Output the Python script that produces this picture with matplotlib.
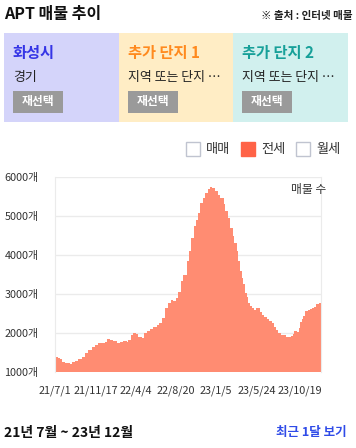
#!/usr/bin/env python3
import datetime as dt
import matplotlib
matplotlib.use('Agg')
import matplotlib.pyplot as plt
from matplotlib.patches import Rectangle

plt.rcParams['font.family'] = ['Noto Sans CJK KR', 'DejaVu Sans']

# 전세 매물 수 (days since 2021-07-01, count)
start = dt.date(2021, 7, 1)
day_offsets = [0, 11, 17, 23, 34, 40, 46, 51, 57, 69, 80, 92, 103, 114, 126, 137,
               149, 160, 172, 177, 189, 200, 212, 223, 234, 246, 252, 260, 269, 278,
               286, 298, 305, 315, 326, 337, 349, 358, 366, 378, 389, 397, 406, 415,
               423, 432, 440, 452, 460, 467, 475, 483, 490, 498, 506, 515, 526, 532,
               540, 549, 558, 566, 578, 583, 593, 601, 609, 615, 624, 629, 636, 641,
               646, 652, 658, 663, 669, 675, 683, 690, 698, 704, 709, 717, 727, 735,
               744, 752, 758, 766, 775, 784, 792, 801, 809, 816, 820, 830, 835, 841,
               847, 852, 858, 866, 873, 881, 889, 896, 904, 912]
counts = [1393, 1350, 1325, 1265, 1222, 1240, 1222, 1197, 1265, 1290, 1333, 1393,
          1479, 1564, 1650, 1692, 1735, 1744, 1778, 1838, 1820, 1795, 1752, 1760,
          1795, 1778, 1820, 1949, 1991, 1974, 1906, 1880, 1991, 2060, 2094, 2162,
          2205, 2248, 2376, 2632, 2761, 2846, 2821, 2889, 3051, 3325, 3496, 3855,
          4094, 4436, 4735, 4906, 5077, 5333, 5462, 5590, 5701, 5744, 5718, 5632,
          5547, 5462, 5308, 5120, 4949, 4692, 4479, 4308, 4094, 3838, 3581, 3402,
          3248, 3017, 2915, 2761, 2692, 2632, 2590, 2632, 2632, 2547, 2462, 2402,
          2359, 2316, 2248, 2162, 2077, 2009, 1949, 1949, 1906, 1906, 1923, 1974,
          2060, 2034, 2120, 2291, 2350, 2436, 2573, 2590, 2615, 2650, 2675, 2744,
          2761, 2778]

tick_dates = [dt.date(2021, 7, 1), dt.date(2021, 11, 17), dt.date(2022, 4, 4),
              dt.date(2022, 8, 20), dt.date(2023, 1, 5), dt.date(2023, 5, 24),
              dt.date(2023, 10, 19)]
tick_labels = ['21/7/1', '21/11/17', '22/4/4', '22/8/20', '23/1/5', '23/5/24', '23/10/19']
y_ticks = [1000, 2000, 3000, 4000, 5000, 6000]

W, H = 356, 448
fig = plt.figure(figsize=(W / 100, H / 100), dpi=100)


def fx(x):
    return x / W


def fy(y):
    return 1 - y / H


def px_text(x, y, s, **kw):
    fig.text(fx(x), fy(y), s, **kw)


# header
px_text(4, 14, 'APT 매물 추이', fontsize=11.5, fontweight='bold', va='center', color='#111111')
px_text(353, 16, '※ 출처 : 인터넷 매물', fontsize=7.6, fontweight='bold', va='center',
        ha='right', color='#222222')

# three selection boxes
boxes = [
    (4, '#D4D4FA', '화성시', '#3535E6', '경기'),
    (119, '#FFEDC5', '추가 단지 1', '#FF8A1E', '지역 또는 단지 …'),
    (233, '#D1F0EE', '추가 단지 2', '#17A099', '지역 또는 단지 …'),
]
box_w = [115, 114, 115]
for (x0, bg, name, ncolor, sub), bw in zip(boxes, box_w):
    fig.patches.append(Rectangle((fx(x0), fy(122)), bw / W, 89 / H,
                                 transform=fig.transFigure, facecolor=bg,
                                 edgecolor='none'))
    px_text(x0 + 9, 53, name, fontsize=11, fontweight='bold', va='center', color=ncolor)
    px_text(x0 + 9, 78, sub, fontsize=9.3, va='center', color='#222222')
    fig.patches.append(Rectangle((fx(x0 + 9), fy(113)), 50 / W, 22 / H,
                                 transform=fig.transFigure, facecolor='#9A9A9A',
                                 edgecolor='none'))
    px_text(x0 + 34, 102, '재선택', fontsize=8.5, fontweight='bold', va='center',
            ha='center', color='white')

# legend checkboxes
legend = [(186, '매매', False), (241, '전세', True), (296, '월세', False)]
for lx, label, on in legend:
    fig.patches.append(Rectangle((fx(lx), fy(156)), 14 / W, 14 / H,
                                 transform=fig.transFigure,
                                 facecolor='#FF6347' if on else 'white',
                                 edgecolor='#FF6347' if on else '#C0C4D0', lw=1))
    px_text(lx + 20, 149, label, fontsize=9.5, va='center', color='#333333')

# chart
ax = fig.add_axes([fx(55), fy(372), 266 / W, 195 / H])
ax.fill_between(day_offsets, counts, 1000, step='post', color='#FF8C72', lw=0)
ax.set_xlim(0, 912)
ax.set_ylim(1000, 6000)
ax.set_yticks(y_ticks)
ax.set_yticklabels([f'{v}개' for v in y_ticks])
ax.set_xticks([(d - start).days for d in tick_dates])
ax.set_xticklabels(tick_labels)
ax.tick_params(length=0, labelsize=7.8, colors='#333333')
ax.tick_params(axis='y', pad=12)
ax.tick_params(axis='x', pad=10)
ax.grid(axis='y', color='#EBEBEB', lw=1)
ax.set_axisbelow(True)
for side in ['top', 'bottom']:
    ax.spines[side].set_visible(False)
for side in ['left', 'right']:
    ax.spines[side].set_color('#EBEBEB')
px_text(326, 190, '매물 수', fontsize=8.5, va='center', ha='right', color='#333333')

# footer
px_text(4, 433, '21년 7월 ~ 23년 12월', fontsize=10, fontweight='bold', va='center',
        color='#111111')
px_text(347, 432, '최근 1달 보기', fontsize=9, fontweight='bold', va='center',
        ha='right', color='#2F4BE8')

fig.savefig('out.png', dpi=100)
